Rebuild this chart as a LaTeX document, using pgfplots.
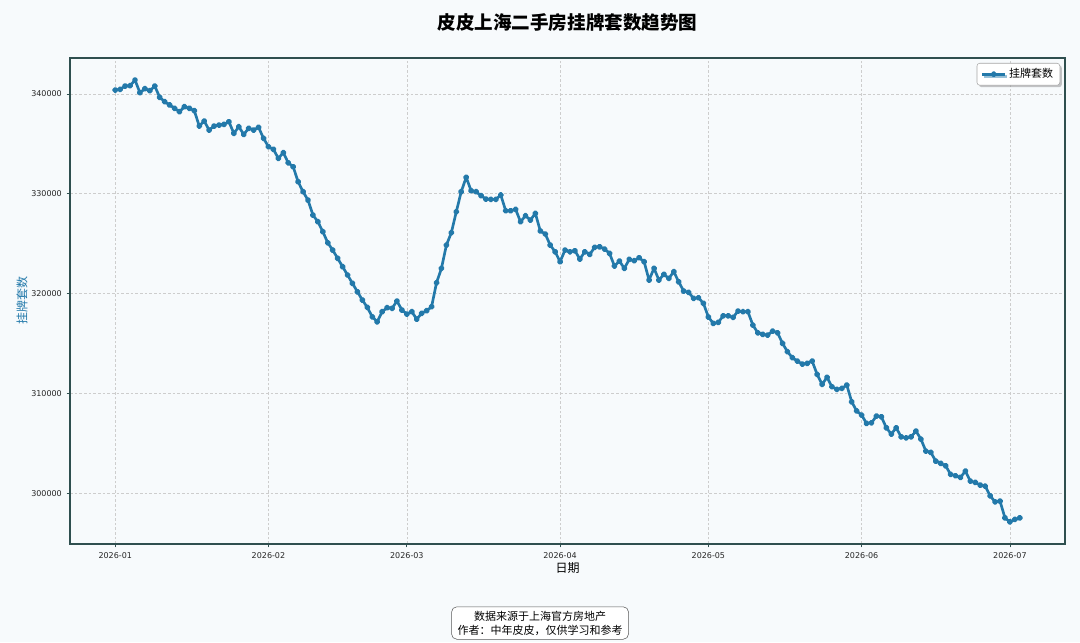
\documentclass[border=0pt]{standalone}
\usepackage{fontspec}
\setmainfont{DejaVu Sans}
\newfontfamily\cjk{Noto Sans CJK SC}
\usepackage{pgfplots}
\usepackage{pgfplotstable}
\pgfplotsset{compat=1.18}
\usetikzlibrary{shadows}
\definecolor{bgc}{RGB}{247,250,252}
\definecolor{linec}{RGB}{35,121,170}
\definecolor{spine}{RGB}{47,79,79}
\definecolor{gridc}{RGB}{205,205,205}

\pgfplotstableread{
day value
0 340400
1 340470
2 340800
3 340830
4 341400
5 340130
6 340530
7 340330
8 340800
9 339670
10 339230
11 338900
12 338570
13 338230
14 338730
15 338570
16 338330
17 336790
18 337290
19 336390
20 336790
21 336890
22 336960
23 337220
24 336060
25 336720
26 335960
27 336560
28 336390
29 336660
30 335560
31 334720
32 334460
33 333550
34 334120
35 333110
36 332710
37 331210
38 330210
39 329370
40 327870
41 327200
42 326200
43 325090
44 324360
45 323530
46 322690
47 321860
48 321020
49 320180
50 319350
51 318620
52 317670
53 317170
54 318180
55 318580
56 318520
57 319250
58 318350
59 317950
60 318180
61 317440
62 318020
63 318280
64 318680
65 321080
66 322530
67 324860
68 326100
69 328200
70 330210
71 331650
72 330310
73 330210
74 329810
75 329470
76 329440
77 329440
78 329880
79 328300
80 328300
81 328440
82 327200
83 327800
84 327370
85 328040
86 326270
87 325970
88 324860
89 324190
90 323190
91 324360
92 324190
93 324290
94 323460
95 324190
96 323930
97 324630
98 324690
99 324460
100 324030
101 322760
102 323260
103 322530
104 323430
105 323290
106 323590
107 323190
108 321350
109 322530
110 321350
111 321930
112 321520
113 322190
114 321180
115 320250
116 320120
117 319520
118 319580
119 319020
120 317650
121 317010
122 317110
123 317770
124 317770
125 317610
126 318250
127 318180
128 318180
129 316840
130 316070
131 315910
132 315840
133 316240
134 316070
135 315010
136 314170
137 313570
138 313230
139 312930
140 313000
141 313230
142 311900
143 310900
144 311600
145 310660
146 310400
147 310500
148 310830
149 309150
150 308240
151 307820
152 306990
153 307050
154 307720
155 307650
156 306550
157 305920
158 306550
159 305640
160 305540
161 305640
162 306220
163 305410
164 304210
165 304080
166 303210
167 302980
168 302740
169 301880
170 301740
171 301570
172 302210
173 301200
174 301070
175 300800
176 300700
177 299730
178 299130
179 299200
180 297520
181 297120
182 297360
183 297520
}\datatable

\begin{document}
\begin{tikzpicture}
\fill[bgc] (-52.5pt,-73.5pt) rectangle (757.5pt,408pt);
\begin{axis}[
  at={(0,0)}, anchor=south west, scale only axis,
  width=746.25pt, height=364.5pt,
  clip mode=individual,
  xmin=-9.15, xmax=192.15, ymin=294900, ymax=343610,
  axis background/.style={fill=bgc},
  axis line style={spine, line width=1.5pt},
  xtick={0,31,59,90,120,151,181},
  xticklabels={2026-01,2026-02,2026-03,2026-04,2026-05,2026-06,2026-07},
  ytick={300000,310000,320000,330000,340000},
  scaled y ticks=false,
  yticklabel style={/pgf/number format/.cd, fixed, 1000 sep={}, assume math mode=true},
  ticklabel style={font=\fontsize{6}{7}\selectfont, text=black!85},
  tick align=outside, tick pos=left, major tick length=2.6pt,
  tick style={spine, line width=0.6pt},
  grid=major, major grid style={gridc, dash pattern=on 2pt off 1.5pt, line width=0.5pt},
  title={皮皮上海二手房挂牌套数趋势图},
  title style={at={(axis description cs:0.5,1)}, anchor=center, yshift=20.5pt, font=\cjk\bfseries\fontsize{13.9}{16}\selectfont},
  xlabel={日期},
  xlabel style={at={(axis description cs:0.5,-0.0494)}, anchor=center, font=\cjk\fontsize{9}{11}\selectfont},
  ylabel={挂牌套数},
  ylabel style={at={(axis description cs:-0.0482,0.5)}, anchor=center, font=\cjk\fontsize{9}{11}\selectfont, text=linec},
  legend style={at={(axis description cs:0.995,0.9897)}, anchor=north east,
    font=\cjk\fontsize{8.25}{10}\selectfont, draw=gray!70, fill=white,
    rounded corners=2pt, drop shadow={opacity=0.45, shadow xshift=1.5pt, shadow yshift=-1.5pt},
    inner xsep=3pt, inner ysep=2pt},
]
\addplot[linec, line width=2pt, line join=round, mark=*, mark size=1.35pt, mark options={solid, draw=none, fill=linec}] table[x=day, y=value] {\datatable};
\addlegendentry{挂牌套数}
\node[draw=gray!70!black, rounded corners=4pt, fill=white, align=center,
      font=\cjk\fontsize{8.25}{10.5}\selectfont, inner xsep=4.5pt, inner ysep=3pt]
      at (axis description cs:0.4724,-0.1626) {数据来源于上海官方房地产\\作者：中年皮皮，仅供学习和参考};
\end{axis}
\pgfresetboundingbox
\path[use as bounding box] (-52.5pt,-73.5pt) rectangle (757.5pt,408pt);
\end{tikzpicture}
\end{document}
